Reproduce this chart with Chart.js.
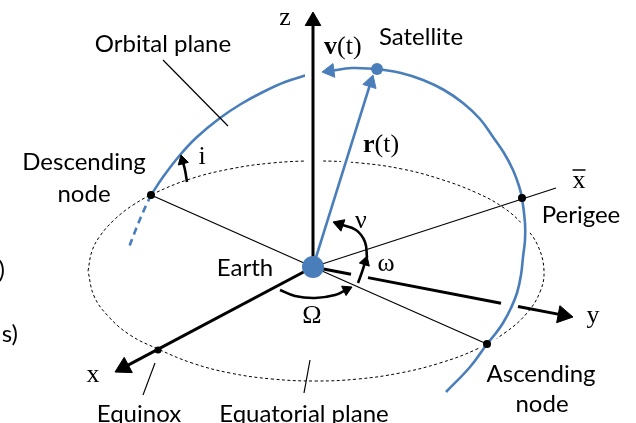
<!DOCTYPE html>
<html>
<head>
<meta charset="utf-8">
<style>
  html, body { margin: 0; padding: 0; background: #fff; overflow: hidden; }
  canvas { display: block; }
</style>
<script src="https://cdn.jsdelivr.net/npm/chart.js@4/dist/chart.umd.min.js"></script>
</head>
<body>
<canvas id="orbit" width="636" height="423"></canvas>
<script>
// Geometry of the orbital-elements sketch, in a 636 x 423 drawing space (y grows downward).
const earth = [[313, 267]];
const satellite = [[377, 69]];
const nodeDots = [[151, 195], [522, 198], [487, 344]];   // descending node, perigee, ascending node
const equinoxDot = [[158, 350]];

// Equatorial plane (dashed ellipse), traced clockwise from its left end
const equatorialPlane = [
  [88, 271], [92, 251], [100, 236], [114, 220], [133, 205], [155, 193], [190, 179], [230, 169],
  [272, 163], [316, 161], [360, 163], [402, 169], [440, 179], [477, 193], [504, 208], [524, 226],
  [538, 246], [544, 271], [540, 292], [527, 313], [506, 332], [477, 349], [440, 363], [400, 373],
  [358, 379], [316, 381], [272, 379], [230, 373], [192, 363], [158, 349], [130, 335], [108, 316],
  [94, 296], [88, 271]
];

// Orbit: part behind the equator, part in front, and the far arc past the satellite
const orbitHidden = [[151, 195], [144, 210], [136, 229], [128, 250]];
const orbitFront = [[151, 195], [163, 177], [180, 155], [197, 137], [220, 118], [241, 104], [263, 92], [285, 82], [307, 75]];
const orbitBack = [
  [377, 69], [401, 73], [423, 80], [444, 90], [463, 103], [480, 119], [493, 137], [504, 153],
  [513, 170], [519, 186], [522, 198], [525, 223], [525, 240], [523, 257], [521, 275], [517, 293],
  [511, 308], [503, 323], [496, 333], [487, 344], [470, 367], [446, 392]
];

// Axes (the y axis is broken where the ω arc and the orbit pass over it)
const zAxis = [[313, 267], [313, 12]];
const xAxis = [[313, 267], [115, 372]];
const yAxisParts = [
  [[313, 267], [351, 274.3]],
  [[368, 277.6], [501, 303.2]],
  [[518, 306.5], [573, 317]]
];

// Thin reference lines
const perigeeLine = [[313, 267], [556, 188]];
const descendingLine = [[313, 267], [151, 195]];
const ascendingLine = [[313, 267], [487, 344]];
const leaderLines = [
  [[163, 60], [228, 126]],   // Orbital plane
  [[155, 363], [143, 395]],  // Equinox
  [[310, 360], [304, 393]]   // Equatorial plane
];

// Vectors
const radiusVector = [[313, 267], [373, 75]];
const velocityVector = [[377, 69], [352, 68], [322, 72]];

// Angle arcs: inclination, true anomaly, argument of perigee, node longitude
const arcInclination = [[187, 182], [185, 170], [181, 155]];
const arcTrueAnomaly = [[367, 258], [365, 242], [356, 230], [333, 222]];
const arcPerigee = [[358, 283], [362, 272], [367, 256]];
const arcNode = [[280, 290], [295, 296], [315, 298], [335, 295], [352, 287]];

// Text
const sansLabels = ['Orbital plane', 'Satellite', 'Descending', 'node', 'Perigee', 'Earth',
                    'Ascending', 'node', 'Equinox', 'Equatorial plane', ')', 's)'];
const sansAnchors = [[163, 52], [421, 45], [84, 170], [84, 202], [581, 223], [245, 276],
                     [541, 382], [542, 412], [139, 422], [304, 422], [5, 278], [18, 342]];
const symbolLabels = ['z', 'x', 'y', 'i', 'ν', 'ω', 'Ω'];
const symbolAnchors = [[285, 25], [93, 382], [593, 323], [202, 164], [361, 228], [386, 271], [312, 323]];
const vectorLabels = ['v', 'r'];
const vectorAnchors = [[324, 54], [363, 152]];
const barLabelAnchor = [579, 188];

const BLUE = '#4a7ebb';
const datasets = [];
const toXY = pts => pts.map(([x, y]) => ({ x, y }));

function addLine(points, opts) {
  datasets.push(Object.assign({
    data: toXY(points), showLine: true, fill: false,
    borderColor: '#000', borderWidth: 1.2, tension: 0,
    pointRadius: 0, pointHoverRadius: 0
  }, opts));
}
function addDots(points, color, radius) {
  datasets.push({
    data: toXY(points), showLine: false,
    pointRadius: radius, pointHoverRadius: radius,
    pointBackgroundColor: color, pointBorderColor: color, pointBorderWidth: 0
  });
}
function addArrow(points, color, width, head, opts) {
  const n = points.length;
  const [x1, y1] = points[n - 2], [x2, y2] = points[n - 1];
  const len = Math.hypot(x2 - x1, y2 - y1);
  const ux = (x2 - x1) / len, uy = (y2 - y1) / len;
  const base = [x2 - ux * head, y2 - uy * head];
  addLine(points.slice(0, -1).concat([base]), Object.assign({ borderColor: color, borderWidth: width }, opts));
  datasets.push({
    data: toXY([base]), showLine: false, pointStyle: 'triangle',
    pointRadius: head, pointHoverRadius: head,
    pointRotation: Math.atan2(ux, -uy) * 180 / Math.PI,
    pointBackgroundColor: color, pointBorderColor: color, pointBorderWidth: 1
  });
}

// back to front
addLine(equatorialPlane, { borderWidth: 1, borderDash: [3, 2.5], tension: 0.4 });
addLine(orbitHidden, { borderColor: BLUE, borderWidth: 2.6, borderDash: [7, 5], tension: 0.4 });
addLine(orbitFront, { borderColor: BLUE, borderWidth: 2.6, tension: 0.4 });
addLine(orbitBack, { borderColor: '#fff', borderWidth: 8, tension: 0.4 });
addLine(orbitBack, { borderColor: BLUE, borderWidth: 2.6, tension: 0.4 });
addLine(zAxis, { borderColor: '#fff', borderWidth: 16 });
addLine(radiusVector, { borderColor: '#fff', borderWidth: 10 });

addLine(descendingLine, {});
addLine(ascendingLine, {});
addLine(perigeeLine, {});
leaderLines.forEach(l => addLine(l, {}));

yAxisParts.slice(0, -1).forEach(p => addLine(p, { borderWidth: 3 }));
addArrow(yAxisParts[yAxisParts.length - 1], '#000', 3, 10);
addArrow(xAxis, '#000', 3, 10);
addArrow(zAxis, '#000', 3, 9);

addArrow(arcInclination, '#000', 2.6, 6, { tension: 0.4 });
addArrow(arcTrueAnomaly, '#000', 2.6, 7, { tension: 0.4 });
addArrow(arcPerigee, '#000', 2.6, 6, { tension: 0.4 });
addArrow(arcNode, '#000', 2.6, 6, { tension: 0.4 });

addArrow(radiusVector, BLUE, 2.6, 8);
addArrow(velocityVector, BLUE, 2.6, 8, { tension: 0.4 });

addDots(nodeDots, '#000', 4);
addDots(equinoxDot, '#000', 3.5);
addDots(earth, BLUE, 11);
addDots(satellite, BLUE, 6);

datasets.forEach((d, i) => { d.order = datasets.length - i; });

const labelPlugin = {
  id: 'diagramLabels',
  afterDatasetsDraw(chart) {
    const { ctx } = chart;
    const sx = chart.scales.x, sy = chart.scales.y;
    const px = ([a, b]) => [sx.getPixelForValue(a), sy.getPixelForValue(b)];
    ctx.save();
    ctx.fillStyle = '#000';
    ctx.textBaseline = 'alphabetic';

    ctx.font = '24px Lato';
    sansLabels.forEach((t, i) => {
      const [x, y] = px(sansAnchors[i]);
      ctx.textAlign = (t === ')' || t === 's)') ? 'right' : 'center';
      ctx.fillText(t, x, y);
    });

    ctx.font = '26px "Liberation Serif"';
    ctx.textAlign = 'center';
    symbolLabels.forEach((t, i) => {
      const [x, y] = px(symbolAnchors[i]);
      ctx.fillText(t, x, y);
    });

    // bold vector symbol followed by (t)
    ctx.textAlign = 'left';
    vectorLabels.forEach((t, i) => {
      const [x, y] = px(vectorAnchors[i]);
      ctx.font = 'bold 26px "Liberation Serif"';
      ctx.fillText(t, x, y);
      const w = ctx.measureText(t).width;
      ctx.font = '26px "Liberation Serif"';
      ctx.fillText('(t)', x + w, y);
    });

    // x with an overbar
    const [bx, by] = px(barLabelAnchor);
    ctx.textAlign = 'center';
    ctx.font = '26px "Liberation Serif"';
    ctx.fillText('x', bx, by);
    const bw = ctx.measureText('x').width;
    ctx.strokeStyle = '#000';
    ctx.lineWidth = 1.5;
    ctx.beginPath();
    ctx.moveTo(bx - bw / 2, by - 18);
    ctx.lineTo(bx + bw / 2, by - 18);
    ctx.stroke();
    ctx.restore();
  }
};

new Chart(document.getElementById('orbit'), {
  type: 'scatter',
  data: { datasets },
  options: {
    responsive: false,
    animation: false,
    events: [],
    layout: { padding: 0, autoPadding: false },
    plugins: { legend: { display: false }, tooltip: { enabled: false } },
    scales: {
      x: { type: 'linear', min: 0, max: 636, display: false },
      y: { type: 'linear', min: 0, max: 423, reverse: true, display: false }
    }
  },
  plugins: [labelPlugin]
});
</script>
</body>
</html>
